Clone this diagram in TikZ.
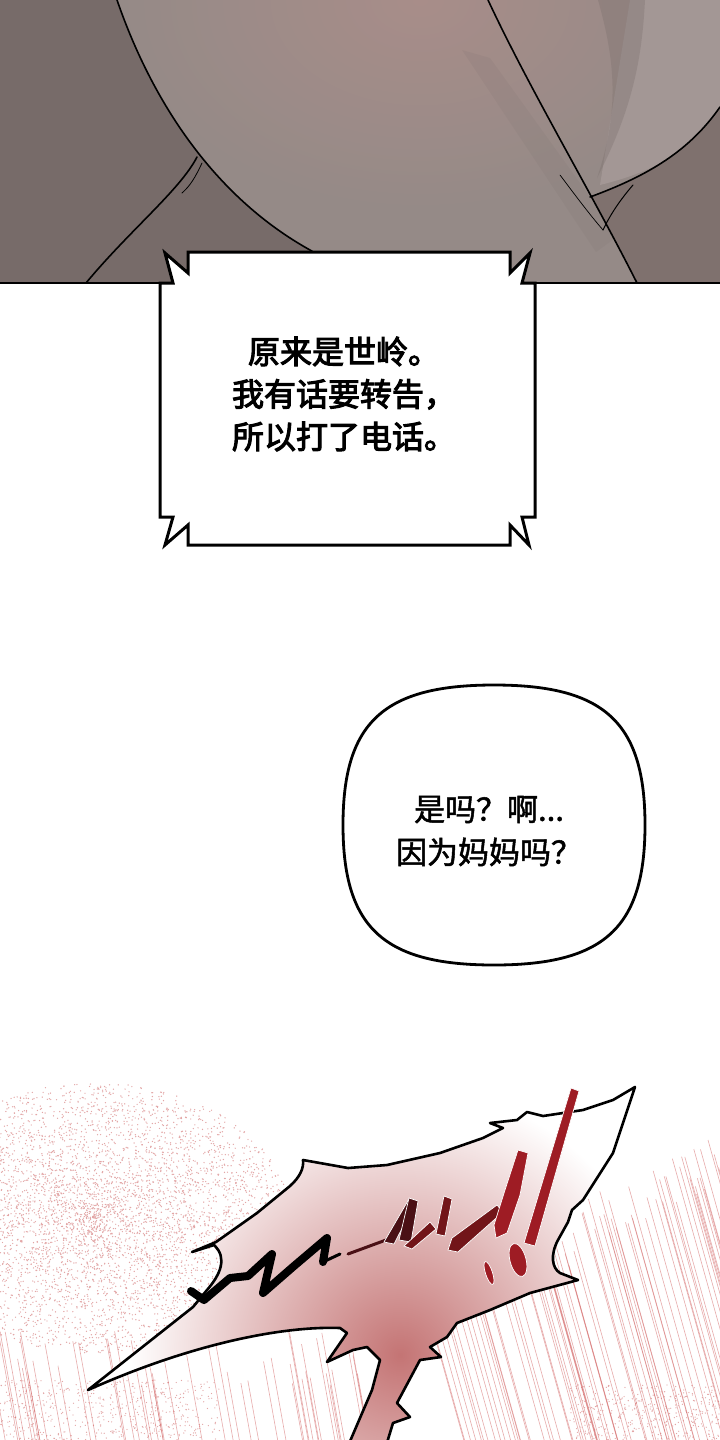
\documentclass[tikz,border=0pt]{standalone}
\usepackage{fontspec}
\newfontfamily\cjk[FakeBold=1.6]{Noto Sans CJK SC}
\newfontfamily\cjkheavy[FakeBold=3.2]{Noto Sans CJK SC}
\usepackage{tikz}

\definecolor{paneldark}{HTML}{776B69}
\definecolor{panelmid}{HTML}{958A87}
\definecolor{panelglow}{HTML}{A88D89}
\definecolor{panellight}{HTML}{A39795}
\definecolor{panelright}{HTML}{7F716E}
\definecolor{burstpink}{HTML}{C47474}
\definecolor{speedred}{HTML}{D46666}
\definecolor{dotpink}{HTML}{E3A6A6}
\definecolor{inkmaroon}{HTML}{4A1015}
\definecolor{inkwine}{HTML}{721519}
\definecolor{inkred}{HTML}{9E1C24}

\tikzset{
  panelline/.style={line width=1.6pt, line cap=round},
  jagbubble/.style={draw, line width=3pt, fill=white, line join=miter},
  roundbubble/.style={draw, line width=2.8pt, fill=white},
  bubbletext/.style={align=center, inner sep=0pt},
  speedline/.style={draw=speedred, line width=0.6pt, opacity=0.55},
  burstline/.style={draw, line width=2.6pt, line join=round},
  sfxink/.style={line cap=round, line join=round},
  sfxfill/.style={draw=white, line width=0.7pt}
}

\begin{document}
\begin{tikzpicture}[x=1pt, y=-1pt]
\useasboundingbox (0,0) rectangle (720,1440);
\fill[white] (0,0) rectangle (720,1440);

% top panel
\begin{scope}
  \clip (0,0) rectangle (720,283);
  \fill[panelmid] (0,0) rectangle (720,283);
  \shade[inner color=panelglow, outer color=panelmid] (420,0) ellipse (300 and 210);
  \fill[panellight] (630,0) -- (720,0) -- (720,107) .. controls (690,150) and (660,170) .. (600,185) -- cycle;
  \fill[paneldark, opacity=0.3] (598,0) .. controls (615,60) and (620,110) .. (597,178) .. controls (632,110) and (642,60) .. (645,0) -- cycle;
  \fill[paneldark, opacity=0.12] (462,50) -- (490,58) -- (618,236) -- (596,252) -- cycle;
  \fill[paneldark] (0,0) -- (117,0) .. controls (155,110) and (220,200) .. (310,250) -- (340,283) -- (0,283) -- cycle;
  \fill[panelright] (720,107) .. controls (690,150) and (650,175) .. (592,197) -- (637,283) -- (720,283) -- cycle;
  \draw[panelline] (117,0) .. controls (155,110) and (220,200) .. (310,250) -- (330,262);
  \draw[panelline] (86,283) .. controls (130,230) and (180,190) .. (197,157);
  \draw[panelline, line width=0.8pt] (202,163) .. controls (195,178) and (190,186) .. (182,193);
  \draw[panelline] (488,0) .. controls (530,90) and (590,190) .. (637,283);
  \draw[panelline] (720,107) .. controls (690,150) and (650,175) .. (590,197);
  \draw[panelline, line width=1pt] (633,185) .. controls (620,200) and (610,215) .. (603,230);
  \draw[panelline, line width=0.7pt] (560,175) .. controls (575,195) and (590,215) .. (603,230);
\end{scope}
\draw[line width=1.5pt] (0,283) -- (720,283);

% jagged bubble
\draw[jagbubble] (160,283) -- (173,283) -- (165,253) -- (188,273) -- (188,252)
  -- (510,252) -- (510,273) -- (530,253) -- (522,283) -- (535,283)
  -- (535,517) -- (522,517) -- (529,545) -- (510,525) -- (510,545)
  -- (188,545) -- (188,525) -- (165,545) -- (173,517) -- (160,517) -- cycle;
\node (seryeong) [bubbletext, font=\cjkheavy\fontsize{32}{42.5}\selectfont] at (344,394)
  {原来是世岭。\\我有话要转告，\\所以打了电话。};

% round bubble
\draw[roundbubble] (343,825) .. controls (343,722) and (384,685) .. (494,685)
  .. controls (604,685) and (645,722) .. (645,825)
  .. controls (645,928) and (604,965) .. (494,965)
  .. controls (384,965) and (343,928) .. (343,825) -- cycle;
\node (mama) [bubbletext, font=\cjk\fontsize{31}{43}\selectfont] at (489,831)
  {是吗？啊...\\因为妈妈吗？};

% halftone and speed lines
\pgfmathsetseed{7}
\begin{scope}
  \clip (0,1040) rectangle (720,1440);
  \foreach \i in {1,...,5500}{
    \pgfmathsetmacro\rr{rnd^0.7}
    \pgfmathsetmacro\aa{360*rnd}
    \pgfmathsetmacro\dx{95+195*\rr*cos(\aa)}
    \pgfmathsetmacro\dy{1218+135*\rr*sin(\aa)}
    \fill[dotpink] (\dx,\dy) circle (0.7);
  }
  \foreach \i in {1,...,500}{
    \pgfmathsetmacro\dx{220*rnd}
    \pgfmathsetmacro\dy{1380+60*rnd}
    \fill[dotpink] (\dx,\dy) circle (0.65);
  }
  \foreach \i in {1,...,350}{
    \pgfmathsetmacro\dx{570+150*rnd}
    \pgfmathsetmacro\dy{1385+55*rnd}
    \fill[dotpink] (\dx,\dy) circle (0.65);
  }
  \foreach \i in {1,...,80}{
    \pgfmathsetmacro\xa{430+290*rnd}
    \pgfmathsetmacro\ya{1130+(720-\xa)*0.5+60*rnd}
    \pgfmathsetmacro\xb{\xa+0.28*(1440-\ya)}
    \draw[speedline] (\xa,\ya) -- (\xb,1440);
  }
  \foreach \i in {1,...,50}{
    \pgfmathsetmacro\xa{-20+380*rnd}
    \pgfmathsetmacro\ya{1330+55*rnd}
    \pgfmathsetmacro\xb{\xa+0.18*(1440-\ya)}
    \draw[speedline] (\xa,\ya) -- (\xb,1440);
  }
\end{scope}

% burst
\def\burstpath{(88,1390) -- (193,1307) -- (207,1290) .. controls (220,1275) and (228,1258) .. (214,1245)
  -- (192,1252) -- (216,1242) -- (257,1213) -- (290,1186) .. controls (300,1177) and (304,1168) .. (303,1160)
  -- (348,1168) -- (387,1165) -- (440,1153) -- (483,1138) -- (503,1128) -- (490,1123) -- (517,1120)
  -- (527,1112) -- (543,1116) -- (583,1110) -- (613,1100) -- (635,1087) -- (613,1153) -- (583,1200)
  -- (572,1210) -- (568,1222) -- (558,1240) .. controls (550,1255) and (552,1268) .. (560,1273)
  -- (578,1280) -- (530,1293) -- (490,1310) -- (457,1323) -- (447,1337) -- (430,1347) -- (441,1357)
  -- (420,1360) -- (397,1403) -- (410,1417) -- (393,1423) -- (386,1446) -- (348,1446) -- (372,1390)
  -- (380,1360) -- (367,1347) -- (353,1350) -- (327,1362) -- (347,1333) -- (340,1328)
  .. controls (290,1326) and (200,1340) .. (88,1390) -- cycle}
\fill[white] \burstpath;
\begin{scope}
  \clip \burstpath;
  \shade[inner color=burstpink, outer color=white] (400,1355) circle (270);
\end{scope}
\draw[burstline] \burstpath;

% sound effect
\draw[sfxink, line width=8pt] (191,1291) -- (204,1300) -- (230,1278) -- (248,1276) -- (272,1254)
  -- (263,1293) -- (294,1266) -- (327,1238) -- (323,1262);
\draw[sfxink, line width=3pt] (323,1262) -- (340,1254);
\draw[sfxink, draw=inkmaroon, line width=3pt] (348,1254) -- (386,1240);
\fill[sfxfill, fill=inkmaroon] (384,1242) -- (409,1199) -- (416,1201) -- (394,1244) -- cycle;
\fill[sfxfill, fill=inkmaroon] (409,1198) -- (418,1201) -- (411,1242) -- (399,1240) -- cycle;
\fill[sfxfill, fill=inkwine] (404,1246) -- (430,1222) -- (436,1229) -- (412,1249) -- cycle;
\fill[sfxfill, fill=inkwine] (444,1196) -- (452,1199) -- (445,1236) -- (436,1234) -- cycle;
\fill[sfxfill, fill=inkwine] (448,1250) -- (452,1238) -- (497,1205) -- (503,1212) -- (458,1252) -- cycle;
\fill[sfxfill, fill=inkred] (518,1150) -- (528,1153) -- (520,1195) -- (507,1233) -- (496,1238) -- (494,1225) -- (505,1190) -- cycle;
\fill[sfxfill, fill=inkred, rotate around={18:(489,1273)}] (489,1273) ellipse (3.5 and 12);
\fill[sfxfill, fill=inkred] (571,1088) -- (579,1091) -- (548,1200) -- (535,1246) -- (524,1243) -- (540,1190) -- cycle;
\fill[sfxfill, fill=inkred, rotate around={15:(518,1260)}] (518,1260) ellipse (8 and 17);
\end{tikzpicture}
\end{document}
